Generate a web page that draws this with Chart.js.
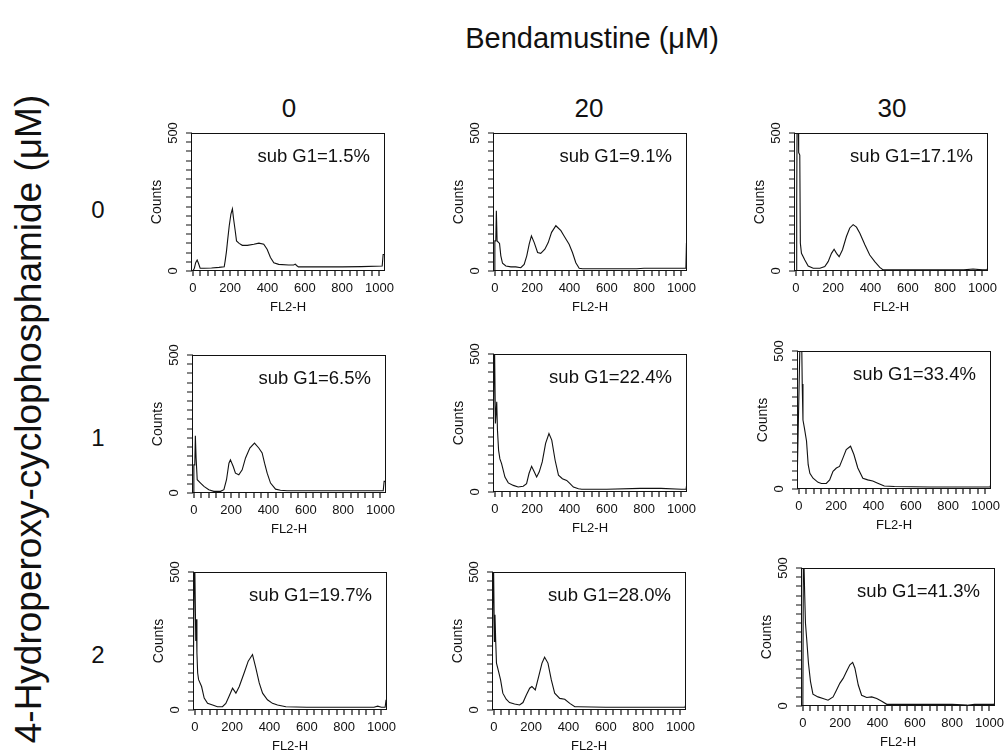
<!DOCTYPE html>
<html>
<head>
<meta charset="utf-8">
<script src="https://cdn.jsdelivr.net/npm/chart.js@4.4.1/dist/chart.umd.min.js"></script>
<style>
  body { margin: 0; background: #fff; }
  #page { position: relative; width: 1007px; height: 755px; overflow: hidden; font-family: 'Liberation Sans', Arial, sans-serif; color: #111; }
  .lbl { position: absolute; white-space: nowrap; transform: translate(-50%, -50%); line-height: 1; }
  .vert { transform: translate(-50%, -50%) rotate(-90deg); }
  canvas { position: absolute; }
</style>
</head>
<body>
<div id="page">
  <div class="lbl" style="left:592px;top:38px;font-size:29px">Bendamustine (μM)</div>
  <div class="lbl" style="left:289px;top:108px;font-size:26px">0</div>
  <div class="lbl" style="left:589px;top:108px;font-size:26px">20</div>
  <div class="lbl" style="left:892px;top:108px;font-size:26px">30</div>
  <div class="lbl vert" style="left:28px;top:419px;font-size:37px">4-Hydroperoxy-cyclophosphamide (μM)</div>
  <div class="lbl" style="left:98px;top:210px;font-size:24px">0</div>
  <div class="lbl" style="left:98px;top:438px;font-size:24px">1</div>
  <div class="lbl" style="left:98px;top:655px;font-size:24px">2</div>
</div>
<script>
// tick labels
const xTickLabels = [0, 200, 400, 600, 800, 1000];
const yTickLabels = [0, 500];
const xMinorStep = 40;
const yMinorCount = 15;

// sub G1 fractions, row by row (4-HC 0, 1, 2) x (bendamustine 0, 20, 30)
const subG1 = ['1.5', '9.1', '17.1', '6.5', '22.4', '33.4', '19.7', '28.0', '41.3'];

// FL2-H channel / counts, one pair per panel
const xA = [-10, 0, 8, 15, 23, 30, 39, 60, 100, 140, 168, 173, 180, 186, 195, 204, 212, 218, 227, 234, 248, 265, 292, 327, 354, 380, 398, 416, 434, 460, 513, 540, 549, 556, 566, 650, 726, 800, 903, 1015, 1020, 1025];
const yA = [0, 0, 10, 30, 40, 28, 10, 10, 11, 13, 15, 36, 70, 109, 164, 206, 225, 190, 146, 109, 100, 93, 93, 97, 101, 97, 79, 49, 30, 24, 22, 22, 25, 20, 15, 15, 15, 15, 16, 18, 60, 60];

const xB = [-8, -4, 0, 5, 8, 12, 25, 32, 41, 59, 86, 112, 139, 157, 171, 184, 196, 211, 229, 246, 268, 286, 304, 327, 354, 371, 398, 416, 434, 452, 470, 600, 760, 800, 900, 1000, 1024, 1027, 1030];
const yB = [0, 0, 109, 109, 218, 109, 100, 55, 28, 18, 15, 15, 12, 24, 55, 97, 127, 103, 67, 64, 79, 103, 140, 164, 146, 127, 97, 67, 30, 10, 8, 8, 8, 10, 10, 10, 10, 100, 100];

const xC = [-10, 2, 3, 6, 7, 12, 15, 21, 24, 30, 48, 66, 93, 129, 155, 173, 191, 205, 218, 232, 250, 271, 289, 307, 325, 343, 370, 396, 423, 450, 468, 500, 700, 900, 950, 1000, 1025, 1030];
const yC = [0, 0, 247, 247, 600, 600, 429, 420, 101, 64, 40, 18, 10, 10, 16, 34, 64, 79, 64, 52, 77, 125, 156, 168, 159, 137, 95, 58, 34, 13, 4, 4, 4, 4, 7, 4, 4, 16];

const xD = [-10, -1, 0, 5, 8, 12, 18, 36, 54, 80, 107, 143, 161, 175, 188, 196, 211, 223, 241, 259, 277, 300, 325, 348, 366, 379, 393, 411, 438, 464, 500, 700, 900, 1015, 1020, 1025];
const yD = [0, 0, 102, 102, 207, 127, 48, 36, 24, 12, 6, 6, 12, 48, 108, 120, 96, 72, 66, 84, 127, 163, 181, 163, 145, 108, 72, 36, 14, 10, 8, 8, 8, 8, 42, 42];

const xE = [-10, -3, 0, 3, 6, 10, 14, 20, 27, 36, 54, 72, 99, 125, 152, 170, 183, 197, 211, 224, 238, 254, 272, 290, 305, 323, 341, 362, 385, 403, 421, 448, 466, 600, 780, 890, 1000, 1025, 1030];
const yE = [0, 600, 600, 248, 248, 327, 224, 151, 120, 103, 54, 33, 24, 18, 21, 30, 67, 93, 73, 54, 73, 109, 176, 212, 188, 115, 61, 48, 42, 30, 18, 12, 10, 10, 13, 13, 10, 10, 36];

const xF = [-10, -5, 8, 14, 18, 22, 30, 41, 50, 59, 76, 103, 121, 147, 165, 183, 201, 218, 236, 254, 277, 295, 316, 343, 369, 396, 423, 458, 512, 700, 900, 1000, 1025, 1030];
const yF = [0, 0, 600, 600, 380, 250, 220, 174, 88, 57, 39, 24, 20, 20, 33, 64, 76, 82, 112, 143, 155, 125, 76, 39, 33, 29, 21, 11, 9, 7, 7, 7, 7, 21];

const xG = [-10, -2, 0, 5, 8, 11, 15, 20, 36, 50, 68, 95, 121, 148, 166, 184, 202, 220, 238, 264, 286, 309, 327, 345, 363, 389, 416, 443, 488, 600, 800, 960, 980, 1000, 1020, 1025];
const yG = [0, 600, 600, 250, 329, 207, 134, 110, 85, 43, 24, 18, 12, 12, 24, 51, 79, 61, 85, 134, 177, 201, 152, 98, 61, 37, 24, 18, 12, 10, 10, 10, 14, 10, 10, 37];

const xH = [-10, -3, 0, 3, 6, 10, 14, 25, 36, 48, 66, 84, 111, 138, 156, 174, 192, 204, 222, 240, 258, 272, 290, 308, 326, 353, 380, 407, 434, 452, 600, 800, 1000, 1025, 1030];
const yH = [0, 600, 600, 248, 345, 248, 170, 140, 109, 61, 39, 27, 22, 18, 27, 54, 79, 85, 73, 121, 170, 191, 170, 109, 61, 42, 39, 24, 12, 12, 10, 10, 10, 10, 24];

const xI = [-10, 0, 3, 6, 10, 14, 20, 30, 41, 54, 81, 108, 135, 162, 180, 198, 216, 234, 252, 267, 279, 297, 315, 342, 369, 396, 423, 450, 600, 800, 880, 920, 1000, 1025, 1030];
const yI = [0, 0, 600, 600, 400, 300, 247, 155, 88, 43, 33, 27, 21, 33, 57, 82, 100, 125, 149, 158, 137, 76, 39, 31, 33, 27, 17, 6, 6, 6, 3, 6, 6, 6, 13];

const series = [[xA, yA], [xB, yB], [xC, yC], [xD, yD], [xE, yE], [xF, yF], [xG, yG], [xH, yH], [xI, yI]];

// plot box top-left corners on the page
const boxes = [[191, 133], [493, 133], [794, 133], [192, 355], [493, 354], [797, 351], [193, 572], [492, 572], [801, 568]];
const BOX_W = 194, BOX_H = 138;
const TICK_LEN = 5;
const FONT = "'Liberation Sans', Arial, sans-serif";
const INK = '#111';

// frame around the plot, tick marks from the scales, and the sub G1 note
const panelDecor = {
    id: 'panelDecor',
    afterDraw(chart, args, opts) {
        const { ctx, chartArea: a, scales } = chart;
        ctx.save();
        ctx.strokeStyle = INK;
        ctx.lineWidth = 1;
        ctx.strokeRect(a.left + 0.5, a.top + 0.5, a.width - 1, a.height - 1);

        ctx.lineWidth = 1.2;
        ctx.beginPath();
        scales.x.ticks.forEach(t => {
            const px = Math.round(scales.x.getPixelForValue(t.value));
            ctx.moveTo(px, a.bottom - 1);
            ctx.lineTo(px, a.bottom + TICK_LEN);
        });
        scales.y.ticks.forEach(t => {
            const py = Math.round(scales.y.getPixelForValue(t.value));
            ctx.moveTo(a.left + 1, py);
            ctx.lineTo(a.left - TICK_LEN, py);
        });
        ctx.stroke();

        ctx.font = '18.5px ' + FONT;
        ctx.fillStyle = INK;
        ctx.textAlign = 'right';
        ctx.textBaseline = 'middle';
        ctx.fillText(opts.text, a.right - 15, a.top + 24);
        ctx.restore();
    }
};

function makePanel(i) {
    const page = document.getElementById('page');
    const canvas = document.createElement('canvas');
    canvas.width = 50 + BOX_W + 18;
    canvas.height = 16 + BOX_H + 46;
    page.appendChild(canvas);
    const [xs, ys] = series[i];

    const chart = new Chart(canvas, {
        type: 'line',
        data: {
            datasets: [{
                data: xs.map((x, k) => ({ x, y: ys[k] })),
                borderColor: INK,
                borderWidth: 1.1,
                pointRadius: 0,
                tension: 0,
                fill: false
            }]
        },
        plugins: [panelDecor],
        options: {
            responsive: false,
            maintainAspectRatio: false,
            animation: false,
            layout: { padding: { left: 0, top: 16, right: 18, bottom: 0 } },
            plugins: {
                legend: { display: false },
                tooltip: { enabled: false },
                panelDecor: { text: 'sub G1=' + subG1[i] + '%' }
            },
            scales: {
                x: {
                    type: 'linear',
                    min: -10,
                    max: 1030,
                    border: { display: false },
                    grid: { display: false, drawTicks: true, tickLength: TICK_LEN },
                    afterBuildTicks(scale) {
                        const t = [];
                        for (let v = 0; v <= 1000; v += xMinorStep) t.push({ value: v });
                        scale.ticks = t;
                    },
                    afterFit(scale) { scale.height = 46; },
                    ticks: {
                        autoSkip: false,
                        maxRotation: 0,
                        padding: 5,
                        color: INK,
                        font: { family: FONT, size: 13 },
                        callback: v => xTickLabels.includes(v) ? String(v) : ''
                    },
                    title: {
                        display: true,
                        text: 'FL2-H',
                        color: INK,
                        font: { family: FONT, size: 13 },
                        padding: { top: 0, bottom: 2 }
                    }
                },
                y: {
                    min: 0,
                    max: 500,
                    border: { display: false },
                    grid: { display: false, drawTicks: true, tickLength: TICK_LEN },
                    afterBuildTicks(scale) {
                        const t = [];
                        for (let k = 0; k <= yMinorCount; k++) t.push({ value: k * 500 / yMinorCount });
                        scale.ticks = t;
                    },
                    afterFit(scale) { scale.width = 50; },
                    ticks: {
                        autoSkip: false,
                        minRotation: 90,
                        maxRotation: 90,
                        crossAlign: 'center',
                        padding: 2,
                        color: INK,
                        font: { family: FONT, size: 13 },
                        callback: v => {
                            const hit = yTickLabels.find(l => Math.abs(l - v) < 0.01);
                            return hit === undefined ? '' : String(hit);
                        }
                    },
                    title: {
                        display: true,
                        text: 'Counts',
                        color: INK,
                        font: { family: FONT, size: 14 },
                        padding: { top: 8, bottom: 0 }
                    }
                }
            }
        }
    });

    let a = chart.chartArea;
    const dw = BOX_W - a.width, dh = BOX_H - a.height;
    if (Math.abs(dw) > 0.1 || Math.abs(dh) > 0.1) {
        chart.resize(canvas.width + dw, canvas.height + dh);
        a = chart.chartArea;
    }
    canvas.style.left = (boxes[i][0] - a.left) + 'px';
    canvas.style.top = (boxes[i][1] - a.top) + 'px';
}

for (let i = 0; i < series.length; i++) makePanel(i);
</script>
</body>
</html>
